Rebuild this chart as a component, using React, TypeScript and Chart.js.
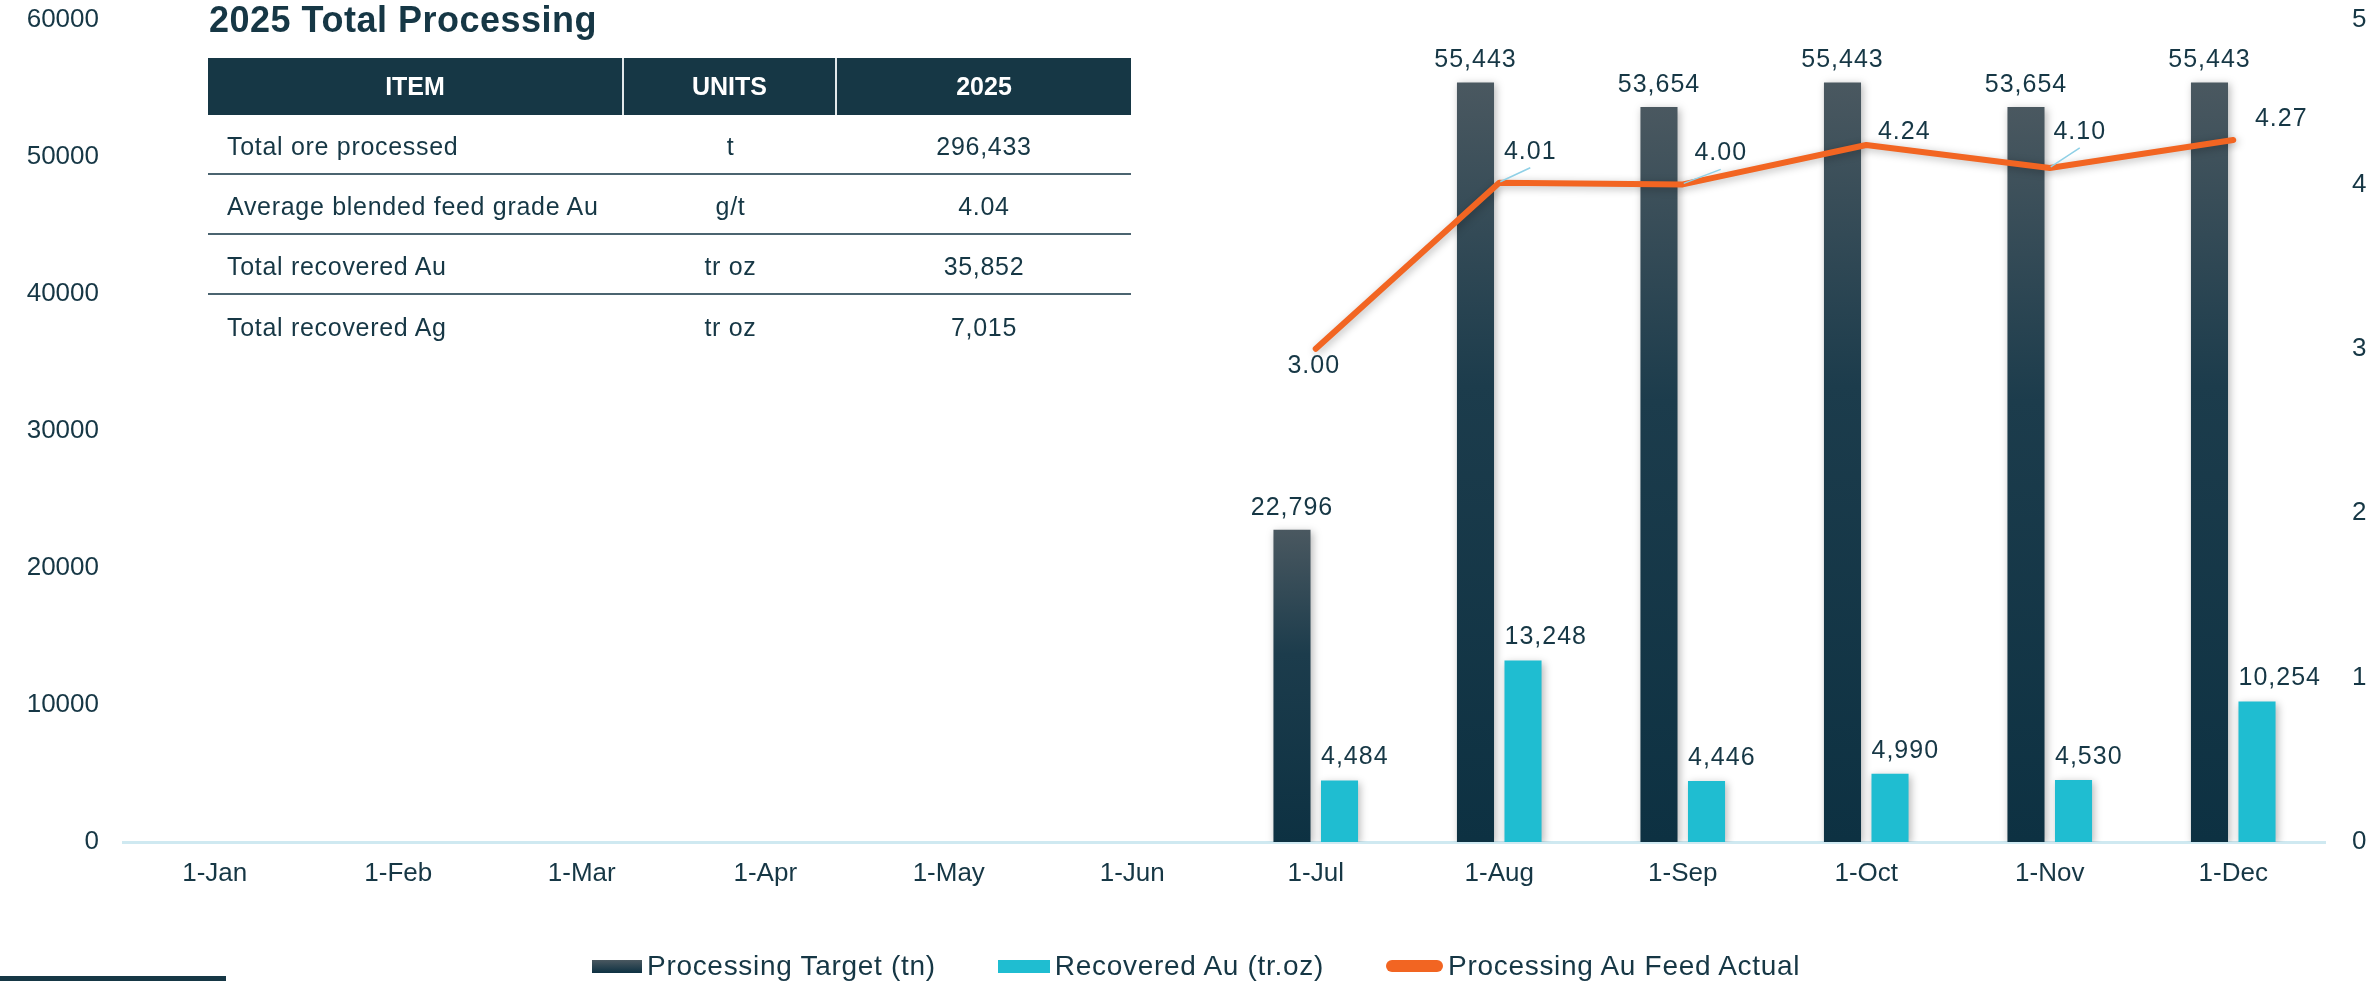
import React, { useEffect, useRef } from "react";
import { Chart, registerables } from "chart.js";

Chart.register(...registerables);

// ---------- data ----------
const categories = ["1-Jan", "1-Feb", "1-Mar", "1-Apr", "1-May", "1-Jun", "1-Jul", "1-Aug", "1-Sep", "1-Oct", "1-Nov", "1-Dec"];
const processingTarget = [0, 0, 0, 0, 0, 0, 22796, 55443, 53654, 55443, 53654, 55443];
const recoveredAu = [0, 0, 0, 0, 0, 0, 4484, 13248, 4446, 4990, 4530, 10254];
const auFeedActual: (number | null)[] = [null, null, null, null, null, null, 3.0, 4.01, 4.0, 4.24, 4.1, 4.27];
const seriesNames = ["Processing Target (tn)", "Recovered Au (tr.oz)", "Processing Au Feed Actual"];
const leftAxis = { min: 0, max: 60000, step: 10000 };
const rightAxis = { min: 0, max: 5, step: 1 };

const chartTitle = "2025 Total Processing";
const tableHeaders = ["ITEM", "UNITS", "2025"];
const tableItems = ["Total ore processed", "Average blended feed grade Au", "Total recovered Au", "Total recovered Ag"];
const tableUnits = ["t", "g/t", "tr oz", "tr oz"];
const tableValues = ["296,433", "4.04", "35,852", "7,015"];

// ---------- style ----------
const FONT = '"Liberation Sans", Arial, Helvetica, sans-serif';
const TEXT = "#163745";
const DARK_TOP = "#4a5860";
const DARK_MID = "#1c3c4c";
const DARK_BOTTOM = "#0d3142";
const CYAN = "#1fbdd1";
const ORANGE = "#f26522";
const AXIS_LINE = "#cfe9f1";
const LEADER = "#8fd0e6";
// label offsets for the line labels (dx, dy) and whether a leader line is drawn
const lineLabelOffsets: [number, number][] = [
  [0, 0], [0, 0], [0, 0], [0, 0], [0, 0], [0, 0],
  [-2, 17], [31, -31], [38, -31], [38, -13], [30, -36], [48, -21],
];
const lineLabelLeader = [false, false, false, false, false, false, false, true, true, false, true, false];

const W = 2372;
const H = 981;

function darkGradient(c: any) {
  const chart = c.chart;
  if (!chart.chartArea || c.type !== "data") return DARK_BOTTOM;
  const y = chart.scales.y;
  const top = y.getPixelForValue(c.raw);
  const bottom = y.getPixelForValue(0);
  if (!isFinite(top) || bottom - top < 1) return DARK_BOTTOM;
  const g = chart.ctx.createLinearGradient(0, top, 0, bottom);
  g.addColorStop(0, DARK_TOP);
  g.addColorStop(0.4, DARK_MID);
  g.addColorStop(1, DARK_BOTTOM);
  return g;
}

const shadowPlugin = {
  id: "shadowPlugin",
  beforeDatasetDraw(chart: any) {
    const ctx = chart.ctx;
    ctx.save();
    ctx.shadowColor = "rgba(0,0,0,0.28)";
    ctx.shadowBlur = 8;
    ctx.shadowOffsetX = 2;
    ctx.shadowOffsetY = 2;
  },
  afterDatasetDraw(chart: any) {
    chart.ctx.restore();
  },
};

const labelPlugin = {
  id: "labelPlugin",
  afterDatasetsDraw(chart: any) {
    const ctx = chart.ctx;
    ctx.save();
    ctx.font = `25px ${FONT}`;
    try {
      (ctx as any).letterSpacing = "1px";
    } catch (e) {}
    ctx.fillStyle = TEXT;
    ctx.textBaseline = "middle";
    // dark bars (dataset 1)
    const mDark = chart.getDatasetMeta(1);
    mDark.data.forEach((el: any, i: number) => {
      const v = processingTarget[i];
      if (!v) return;
      ctx.textAlign = "center";
      ctx.fillText(v.toLocaleString("en-US"), el.x, el.y - 22);
    });
    // cyan bars (dataset 2)
    const mCyan = chart.getDatasetMeta(2);
    mCyan.data.forEach((el: any, i: number) => {
      const v = recoveredAu[i];
      if (!v) return;
      ctx.textAlign = "left";
      ctx.fillText(v.toLocaleString("en-US"), el.x - el.width / 2, el.y - 23);
    });
    // line labels (dataset 0)
    const mLine = chart.getDatasetMeta(0);
    mLine.data.forEach((el: any, i: number) => {
      const v = auFeedActual[i];
      if (v == null) return;
      const [dx, dy] = lineLabelOffsets[i];
      const lx = el.x + dx;
      const ly = el.y + dy;
      if (lineLabelLeader[i]) {
        ctx.save();
        ctx.strokeStyle = LEADER;
        ctx.lineWidth = 1.5;
        ctx.beginPath();
        ctx.moveTo(el.x + 1, el.y - 1);
        ctx.lineTo(lx, ly + 16);
        ctx.stroke();
        ctx.restore();
      }
      ctx.textAlign = "center";
      ctx.fillText(v.toFixed(2), lx, ly);
    });
    ctx.restore();
  },
};

function ChartCanvas() {
  const ref = useRef<HTMLCanvasElement | null>(null);
  useEffect(() => {
    if (!ref.current) return;
    const tickFont = { family: FONT, size: 26 };
    const chart = new Chart(ref.current, {
      type: "bar",
      data: {
        labels: categories,
        datasets: [
          {
            type: "line",
            label: seriesNames[2],
            data: auFeedActual,
            yAxisID: "y1",
            borderColor: ORANGE,
            backgroundColor: ORANGE,
            borderWidth: 6,
            pointRadius: 0,
            pointHoverRadius: 0,
            tension: 0,
            borderCapStyle: "round",
            borderJoinStyle: "round",
            order: 0,
          } as any,
          {
            type: "bar",
            label: seriesNames[0],
            data: processingTarget,
            yAxisID: "y",
            backgroundColor: darkGradient,
            categoryPercentage: 0.518,
            barPercentage: 0.78,
            order: 1,
          } as any,
          {
            type: "bar",
            label: seriesNames[1],
            data: recoveredAu,
            yAxisID: "y",
            backgroundColor: CYAN,
            categoryPercentage: 0.518,
            barPercentage: 0.78,
            order: 2,
          } as any,
        ],
      },
      options: {
        responsive: false,
        maintainAspectRatio: false,
        animation: false,
        devicePixelRatio: 1,
        layout: { padding: { top: 20, left: 0, right: 0, bottom: 79 } },
        plugins: {
          legend: { display: false },
          tooltip: { enabled: false },
          title: { display: false },
        },
        scales: {
          x: {
            grid: { display: false, drawTicks: false },
            border: { display: true, color: AXIS_LINE, width: 3 },
            ticks: { color: TEXT, font: tickFont, padding: 16, maxRotation: 0, autoSkip: false },
            afterFit: (s: any) => {
              s.height = 60;
            },
          },
          y: {
            position: "left",
            min: leftAxis.min,
            max: leftAxis.max,
            grid: { display: false, drawTicks: false },
            border: { display: false },
            ticks: { stepSize: leftAxis.step, color: TEXT, font: tickFont, padding: 24, callback: (v: any) => String(v) },
            afterFit: (s: any) => {
              s.width = 123;
              s.paddingTop = 0;
              s.paddingBottom = 0;
            },
          },
          y1: {
            position: "right",
            min: rightAxis.min,
            max: rightAxis.max,
            grid: { display: false, drawTicks: false },
            border: { display: false },
            ticks: { stepSize: rightAxis.step, color: TEXT, font: tickFont, padding: 27, callback: (v: any) => String(v) },
            afterFit: (s: any) => {
              s.width = 47;
              s.paddingTop = 0;
              s.paddingBottom = 0;
            },
          },
        },
      } as any,
      plugins: [shadowPlugin, labelPlugin],
    });
    return () => chart.destroy();
  }, []);
  return <canvas ref={ref} width={W} height={H} style={{ position: "absolute", left: 0, top: 0, width: W, height: H }} />;
}

function SummaryTable() {
  const colW = [416, 213, 294];
  const cellBase: React.CSSProperties = { display: "flex", alignItems: "center", boxSizing: "border-box", height: "100%" };
  return (
    <div style={{ position: "absolute", left: 208, top: 58, width: 923, fontFamily: FONT }}>
      <div style={{ display: "flex", height: 57, background: "#163745", color: "#fff", fontWeight: "bold", fontSize: 25 }}>
        {tableHeaders.map((h, i) => (
          <div
            key={h}
            style={{
              ...cellBase,
              width: colW[i],
              justifyContent: "center",
              borderRight: i < 2 ? "2px solid #e2e8ea" : "none",
            }}
          >
            {h}
          </div>
        ))}
      </div>
      {tableItems.map((item, r) => (
        <div
          key={item}
          style={{
            display: "flex",
            height: 60,
            boxSizing: "border-box",
            paddingTop: 5,
            borderBottom: r < tableItems.length - 1 ? "2px solid #4b6470" : "none",
            color: TEXT,
            fontSize: 25,
            letterSpacing: "0.7px",
          }}
        >
          <div style={{ ...cellBase, width: colW[0], paddingLeft: 19 }}>{item}</div>
          <div style={{ ...cellBase, width: colW[1], justifyContent: "center" }}>{tableUnits[r]}</div>
          <div style={{ ...cellBase, width: colW[2], justifyContent: "center" }}>{tableValues[r]}</div>
        </div>
      ))}
    </div>
  );
}

function Legend() {
  const swatches: React.CSSProperties[] = [
    { width: 50, height: 13, background: `linear-gradient(${DARK_TOP}, ${DARK_BOTTOM})` },
    { width: 52, height: 13, background: CYAN },
    { width: 57, height: 12, background: ORANGE, borderRadius: 6 },
  ];
  return (
    <div
      style={{
        position: "absolute",
        left: 592,
        top: 951,
        height: 30,
        display: "flex",
        alignItems: "center",
        gap: 62,
        fontFamily: FONT,
        fontSize: 28,
        letterSpacing: "0.7px",
        color: TEXT,
        whiteSpace: "nowrap",
        lineHeight: "30px",
      }}
    >
      {seriesNames.map((n, i) => (
        <div key={n} style={{ display: "flex", alignItems: "center" }}>
          <div style={{ ...swatches[i], marginRight: 5 }} />
          <span>{n}</span>
        </div>
      ))}
    </div>
  );
}

export default function App() {
  useEffect(() => {
    document.body.style.margin = "0";
  }, []);
  return (
    <div style={{ position: "absolute", left: 0, top: 0, width: W, height: H, overflow: "hidden", background: "#fff" }}>
      <ChartCanvas />
      <div
        style={{
          position: "absolute",
          left: 209,
          top: 2,
          fontFamily: FONT,
          fontWeight: "bold",
          fontSize: 36,
          lineHeight: "36px",
          letterSpacing: "0.5px",
          color: TEXT,
          whiteSpace: "nowrap",
        }}
      >
        {chartTitle}
      </div>
      <SummaryTable />
      <Legend />
      <div style={{ position: "absolute", left: 0, top: 976, width: 226, height: 5, background: "#163745" }} />
    </div>
  );
}
